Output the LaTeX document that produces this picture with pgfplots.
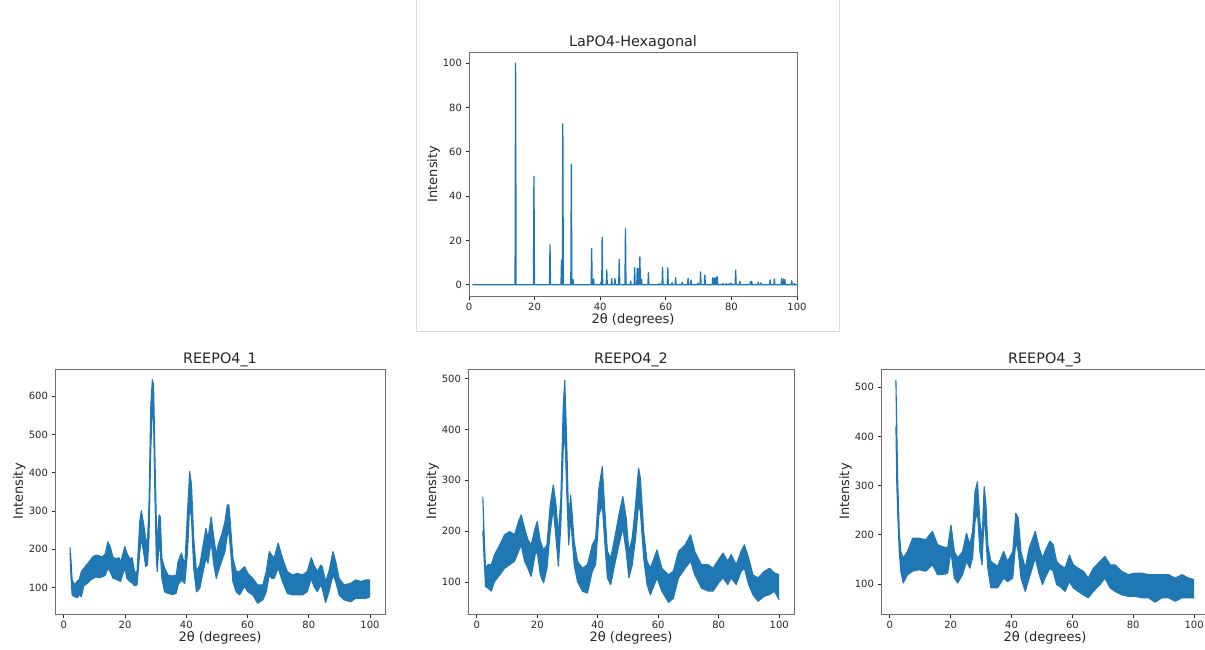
\documentclass[border=0pt]{standalone}
\usepackage{fontspec}
\setmainfont{DejaVu Sans}
\usepackage{pgfplots}
\pgfplotsset{compat=1.18}
\usepackage{pgfplotstable}
\usepgfplotslibrary{fillbetween}

\definecolor{mplblue}{HTML}{1F77B4}
\definecolor{spine}{HTML}{6E6E6E}
\definecolor{ticktext}{HTML}{262626}

% one pixel of the reference = 1pt
\pgfplotsset{xrd/.style={scale only axis, axis line style={spine, line width=0.9pt},
  tick style={ticktext, line width=0.8pt}, tick align=outside, major tick length=3.5pt, tick pos=left,
  xtick={0,20,...,100}, /pgf/number format/assume math mode=true,
  tick label style={font=\fontsize{10}{12}\selectfont, text=ticktext},
  label style={font=\fontsize{13}{15}\selectfont, text=ticktext},
  title style={font=\fontsize{14.4}{17}\selectfont, text=ticktext, at={(axis description cs:0.5,1.021)}, anchor=base, yshift=-6pt},
  xlabel={2θ (degrees)}, ylabel={Intensity},
  xlabel style={at={(axis description cs:0.5,-0.112)}, anchor=base},
  ylabel style={at={(axis description cs:-0.0975,0.5)}, anchor=base},
  every axis plot/.append style={mplblue}}}
\pgfplotsset{band/.style={line width=1.1pt, line join=round}}

% REEPO4_1: x, lower and upper edge of the noisy trace
\pgfplotstableread{
x lo hi
2.0 190 205
2.3 130 175
2.7 81 120
3.5 76 107
4.5 74 118
5.0 82 120
5.7 76 142
6.5 105 150
7.5 110 160
8.5 118 170
9.5 124 181
10.5 128 185
11.5 126 183
12.5 128 180
13.5 132 188
14.4 151 220
15.2 140 205
16.0 125 180
17.0 122 175
18.0 118 178
18.5 116 165
19.9 151 207
20.6 124 190
21.5 116 175
22.3 112 178
23.1 105 140
23.9 107 142
24.8 194 272
25.3 229 301
26.1 190 264
26.7 155 229
27.3 159 220
27.8 229 316
28.4 464 577
28.9 569 643
29.3 534 630
29.8 316 420
30.2 177 272
30.5 142 211
31.1 220 290
31.5 194 285
32.0 124 177
32.9 89 151
34.0 85 133
35.5 82 130
36.7 85 133
37.3 107 168
38.4 120 190
39.5 111 159
40.4 194 299
41.1 316 403
41.7 281 368
42.4 151 229
43.3 89 142
44.4 98 159
45.5 142 211
46.4 177 255
47.1 164 229
48.1 220 285
49.0 159 229
49.8 124 185
50.4 142 211
51.5 168 237
52.6 194 272
53.4 237 316
53.9 246 316
54.5 194 255
55.2 116 177
56.3 89 142
57.4 81 142
59.0 103 155
60.1 89 137
61.7 81 124
63.3 59 107
65.0 68 107
66.1 89 142
67.1 133 194
67.9 124 185
68.7 124 177
70.0 151 216
71.4 116 177
73.0 85 142
74.6 81 133
76.3 81 137
77.9 81 133
79.5 89 142
80.8 124 178
81.7 103 159
82.8 89 142
83.9 107 159
84.4 98 155
85.5 61 116
86.6 89 142
87.9 133 194
88.8 116 168
89.9 81 124
91.5 68 107
93.7 63 111
95.3 72 120
97.0 72 116
98.6 72 120
100.0 76 120
}\reeA

% REEPO4_2
\pgfplotstableread{
x lo hi
2.0 200 268
2.4 150 199
2.9 91 127
3.7 88 134
4.8 82 134
5.9 101 154
7.6 114 173
9.2 127 193
10.9 134 199
12.5 141 193
13.8 160 219
14.7 173 232
15.8 141 206
16.9 127 183
18.0 111 173
19.3 154 206
20.0 160 219
21.0 114 180
22.1 98 163
23.2 127 173
24.3 199 252
25.3 245 291
26.2 186 252
27.0 131 193
27.8 213 265
28.6 363 448
29.1 396 497
29.8 271 363
30.4 173 213
31.0 226 271
31.4 199 245
32.2 134 180
33.3 101 141
34.9 82 127
36.6 78 134
38.2 121 173
39.3 134 186
40.4 232 285
41.5 252 327
42.3 180 245
43.2 108 160
44.3 95 147
45.6 134 186
47.0 173 232
48.3 206 268
49.4 160 226
50.3 108 160
51.4 134 186
52.5 186 252
53.5 252 324
54.1 239 304
55.2 147 199
56.3 95 141
57.4 75 127
59.6 108 163
61.2 82 127
63.4 60 114
65.0 68 121
66.7 108 160
68.9 127 173
70.7 141 193
72.1 114 160
74.3 88 134
76.5 82 134
78.1 82 127
80.3 101 147
81.4 108 157
83.0 95 141
84.1 108 154
85.8 95 134
87.4 121 160
88.5 127 173
89.9 95 147
91.3 75 114
93.0 62 108
95.1 72 121
96.8 75 127
98.4 82 118
100.0 65 114
}\reeB

% REEPO4_3
\pgfplotstableread{
x lo hi
2.0 420 515
2.3 300 410
2.6 241 308
3.1 166 207
3.6 126 166
4.4 102 153
5.8 119 166
7.5 126 193
9.6 129 193
11.8 126 190
14.0 139 207
15.7 119 180
17.3 119 176
19.0 122 173
20.1 166 220
21.2 112 166
22.3 102 153
23.9 119 166
25.2 146 203
26.3 132 180
27.2 153 207
28.0 227 288
28.8 247 308
29.6 166 227
30.3 139 187
31.0 241 298
31.6 193 261
32.2 132 180
33.2 92 146
35.4 92 136
37.4 112 166
38.7 105 146
40.4 112 166
41.4 186 244
42.2 166 234
43.1 112 166
44.5 85 132
45.8 112 173
47.8 153 207
49.1 119 173
50.2 99 153
51.0 112 166
52.6 132 187
53.7 126 180
54.8 99 146
55.9 95 139
57.6 85 132
59.0 105 159
60.3 92 139
61.9 85 132
63.6 78 126
65.2 72 112
66.9 85 132
69.1 99 146
70.7 112 156
72.4 92 139
74.0 85 139
76.2 78 126
78.4 75 119
80.6 75 122
82.8 72 122
85.0 72 119
87.2 63 119
89.4 72 119
91.6 72 119
93.8 65 112
96.0 72 119
98.2 72 112
100.0 72 109
}\reeC

\begin{document}
\begin{tikzpicture}
\draw[black!15, line width=1pt] (416.5pt,5pt) rectangle (839pt,-331pt);

\begin{axis}[xrd, at={(469pt,-52pt)}, anchor=north west, width=328pt, height=244pt,
  title={LaPO4-Hexagonal}, xmin=0, xmax=100, ymin=-5.1, ymax=105.1, ytick={0,20,...,100}]
\addplot[line width=1.3pt, line join=round] coordinates {
(1,0)
(14.05,0) (14.2,100) (14.35,0)
(19.65,0) (19.8,49) (19.95,0)
(24.55,0) (24.7,18) (24.85,0)
(28.05,0) (28.2,11) (28.35,0)
(28.45,0) (28.6,72.7) (28.75,0)
(31.05,0) (31.2,54.5) (31.35,0)
(31.55,0) (31.7,2.4) (31.85,0)
(37.25,0) (37.4,16.3) (37.55,0)
(37.85,0) (38.0,2.6) (38.15,0)
(40.15,0) (40.3,1.5) (40.42,0)
(40.48,0) (40.6,21.4) (40.75,0)
(41.85,0) (42.0,6.6) (42.15,0)
(43.35,0) (43.5,2.8) (43.65,0)
(44.35,0) (44.5,2.8) (44.65,0)
(45.65,0) (45.8,11.5) (45.95,0)
(47.55,0) (47.7,25.3) (47.85,0)
(49.15,0) (49.3,1.6) (49.45,0)
(50.35,0) (50.5,7.7) (50.65,0)
(51.15,0) (51.3,7.4) (51.45,0)
(51.55,0) (51.7,7.2) (51.85,0)
(51.95,0) (52.1,12.6) (52.25,0)
(52.45,0) (52.6,2.6) (52.75,0)
(54.55,0) (54.7,5.4) (54.85,0)
(57.95,0) (58.1,0.6) (58.25,0)
(58.85,0) (59.0,7.9) (59.15,0)
(60.45,0) (60.6,7.6) (60.75,0)
(61.75,0) (61.9,0.9) (62.05,0)
(62.85,0) (63.0,3.2) (63.15,0)
(64.85,0) (65.0,1.1) (65.15,0)
(66.65,0) (66.8,2.8) (66.95,0)
(67.55,0) (67.7,2.1) (67.85,0)
(69.65,0) (69.8,0.8) (69.95,0)
(70.45,0) (70.6,5.8) (70.75,0)
(71.75,0) (71.9,4.3) (72.05,0)
(74.15,0) (74.3,3.1) (74.45,0)
(74.65,0) (74.8,3.0) (74.95,0)
(75.15,0) (75.3,3.4) (75.45,0)
(75.55,0) (75.7,3.6) (75.85,0)
(77.25,0) (77.4,0.5) (77.55,0)
(78.25,0) (78.4,0.5) (78.55,0)
(79.25,0) (79.4,0.5) (79.55,0)
(79.85,0) (80.0,0.6) (80.15,0)
(81.15,0) (81.3,6.6) (81.45,0)
(82.45,0) (82.6,1.5) (82.75,0)
(85.65,0) (85.8,1.3) (85.95,0)
(86.05,0) (86.2,1.5) (86.35,0)
(88.05,0) (88.2,1.2) (88.35,0)
(88.85,0) (89.0,0.8) (89.15,0)
(91.65,0) (91.8,2.2) (91.95,0)
(92.95,0) (93.1,2.6) (93.25,0)
(95.15,0) (95.3,2.8) (95.45,0)
(95.75,0) (95.9,2.6) (96.05,0)
(96.15,0) (96.3,2.3) (96.45,0)
(98.25,0) (98.4,1.8) (98.55,0)
(99.05,0) (99.2,0.5) (99.35,0)
(100,0)};
\end{axis}

\begin{axis}[xrd, at={(55pt,-369pt)}, anchor=north west, width=330pt, height=245pt,
  title={REEPO4\_1}, xmin=-2.9, xmax=104.9, ymin=31, ymax=671, ytick={100,200,...,600}]
\addplot[band, name path=hiA] table[x=x, y=hi] {\reeA};
\addplot[band, name path=loA] table[x=x, y=lo] {\reeA};
\addplot[mplblue] fill between[of=hiA and loA];
\end{axis}

\begin{axis}[xrd, at={(468pt,-369pt)}, anchor=north west, width=326pt, height=245pt,
  title={REEPO4\_2}, xmin=-2.9, xmax=104.9, ymin=37, ymax=519, ytick={100,200,...,500}]
\addplot[band, name path=hiB] table[x=x, y=hi] {\reeB};
\addplot[band, name path=loB] table[x=x, y=lo] {\reeB};
\addplot[mplblue] fill between[of=hiB and loB];
\end{axis}

\begin{axis}[xrd, at={(881pt,-369pt)}, anchor=north west, width=328pt, height=245pt,
  title={REEPO4\_3}, xmin=-2.9, xmax=104.9, ymin=39, ymax=537, ytick={100,200,...,500}]
\addplot[band, name path=hiC] table[x=x, y=hi] {\reeC};
\addplot[band, name path=loC] table[x=x, y=lo] {\reeC};
\addplot[mplblue] fill between[of=hiC and loC];
\end{axis}

\pgfresetboundingbox
\path[use as bounding box] (0,0) rectangle (1205pt,-649pt);
\end{tikzpicture}
\end{document}
